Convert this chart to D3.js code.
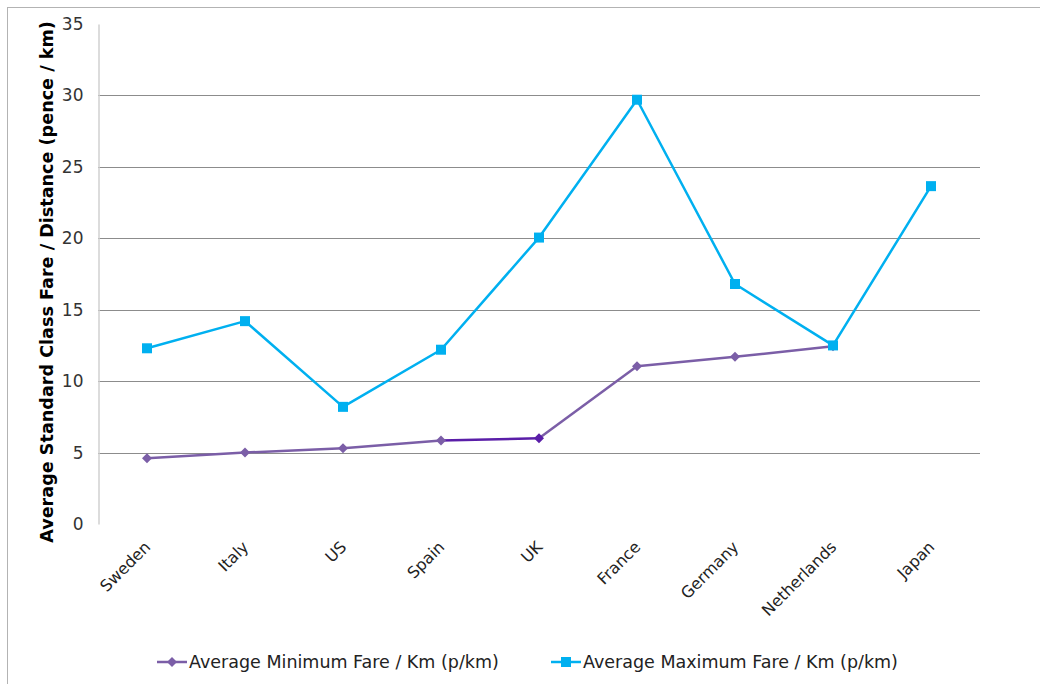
<!DOCTYPE html>
<html>
<head>
<meta charset="utf-8">
<script src="https://cdn.jsdelivr.net/npm/d3@7/dist/d3.min.js"></script>
<style>
  html, body { margin: 0; padding: 0; background: #fff; }
  svg { display: block; font-family: "DejaVu Sans", Verdana, sans-serif; }
</style>
</head>
<body>
<svg id="chart" width="1040" height="684"></svg>
<script>
// Standard class fares per km by country
const countries = ["Sweden", "Italy", "US", "Spain", "UK", "France", "Germany", "Netherlands", "Japan"];
const minFare = [4.6, 5.0, 5.3, 5.85, 6.0, 11.05, 11.7, 12.45, null];
const maxFare = [12.3, 14.2, 8.2, 12.2, 20.05, 29.7, 16.8, 12.5, 23.65];
const yTicks = [0, 5, 10, 15, 20, 25, 30, 35];
const seriesNames = ["Average Minimum Fare / Km (p/km)", "Average Maximum Fare / Km (p/km)"];
const yTitle = "Average Standard Class Fare / Distance (pence / km)";

const MIN_COLOR = "#7b5ea7";
const MIN_ACCENT = "#5a1ea8";   // the UK point and the segment leading to it
const MAX_COLOR = "#00b0f0";
const accentIndex = countries.indexOf("UK");

const svg = d3.select("#chart");

// outer frame
svg.append("rect")
  .attr("x", 7.5).attr("y", 7.5).attr("width", 1100).attr("height", 700)
  .attr("fill", "none").attr("stroke", "#b3b3b3").attr("stroke-width", 1);

const plot = { left: 98, right: 980, top: 24, bottom: 524 };

const x = d3.scalePoint().domain(countries)
  .range([plot.left, plot.right]).padding(0.5);
const y = d3.scaleLinear().domain([0, 35]).range([plot.bottom, plot.top]);

// horizontal gridlines (none at the top tick or the baseline)
svg.append("g").selectAll("line")
  .data(yTicks.filter(t => t > 0 && t < 35))
  .join("line")
  .attr("x1", plot.left).attr("x2", plot.right)
  .attr("y1", d => Math.round(y(d)) + 0.5).attr("y2", d => Math.round(y(d)) + 0.5)
  .attr("stroke", "#8c8c8c").attr("stroke-width", 1);

// y axis
const yAxis = d3.axisLeft(y).tickValues(yTicks).tickSize(0).tickPadding(15);
const gy = svg.append("g").attr("transform", `translate(${plot.left + 0.5},0)`).call(yAxis);
gy.select(".domain").attr("stroke", "#d0d0d0").attr("stroke-width", 1.5);
gy.selectAll("text").attr("font-size", 17).attr("fill", "#333")
  .attr("font-family", "DejaVu Sans, Verdana, sans-serif");

// x axis labels, rotated
const xAxis = d3.axisBottom(x).tickSize(0).tickPadding(0);
const gx = svg.append("g").attr("transform", `translate(0,${plot.bottom})`).call(xAxis);
gx.select(".domain").remove();
gx.selectAll("text")
  .attr("font-size", 16).attr("fill", "#222")
  .attr("font-family", "DejaVu Sans, Verdana, sans-serif")
  .attr("text-anchor", "end")
  .attr("dy", null).attr("y", 0)
  .attr("transform", "translate(4,24) rotate(-45)");

// y axis title
svg.append("text")
  .attr("transform", `translate(53,${(plot.top + plot.bottom) / 2 + 8}) rotate(-90)`)
  .attr("text-anchor", "middle")
  .attr("font-size", 17.6).attr("font-weight", "bold").attr("fill", "#000")
  .text(yTitle);

const line = d3.line()
  .defined(d => d.v != null)
  .x(d => x(d.c)).y(d => y(d.v));

const minData = countries.map((c, i) => ({ c, v: minFare[i], i }));
const maxData = countries.map((c, i) => ({ c, v: maxFare[i], i }));

// minimum series
const gMin = svg.append("g");
for (let i = 0; i < minData.length - 1; i++) {
  const a = minData[i], b = minData[i + 1];
  if (a.v == null || b.v == null) continue;
  gMin.append("path")
    .attr("d", line([a, b]))
    .attr("fill", "none")
    .attr("stroke", b.i === accentIndex ? MIN_ACCENT : MIN_COLOR)
    .attr("stroke-width", 2.5);
}
const diamond = d3.symbol().type(d3.symbolDiamond2).size(64);
gMin.selectAll("path.m").data(minData.filter(d => d.v != null)).join("path")
  .attr("class", "m")
  .attr("d", diamond)
  .attr("transform", d => `translate(${x(d.c)},${y(d.v)})`)
  .attr("fill", d => d.i === accentIndex ? MIN_ACCENT : MIN_COLOR);

// maximum series
const gMax = svg.append("g");
gMax.append("path")
  .attr("d", line(maxData))
  .attr("fill", "none").attr("stroke", MAX_COLOR).attr("stroke-width", 2.5)
  .attr("stroke-linejoin", "round");
gMax.selectAll("rect").data(maxData).join("rect")
  .attr("x", d => x(d.c) - 5).attr("y", d => y(d.v) - 5)
  .attr("width", 10).attr("height", 10)
  .attr("fill", MAX_COLOR);

// legend
const legend = svg.append("g").attr("transform", "translate(0,662)");
const legendItems = [
  { name: seriesNames[0], color: MIN_COLOR, x0: 157, shape: "diamond" },
  { name: seriesNames[1], color: MAX_COLOR, x0: 551, shape: "square" }
];
legendItems.forEach(it => {
  const g = legend.append("g").attr("transform", `translate(${it.x0},0)`);
  g.append("line").attr("x1", 0).attr("x2", 30).attr("y1", 0).attr("y2", 0)
    .attr("stroke", it.color).attr("stroke-width", 2.5);
  if (it.shape === "diamond") {
    g.append("path").attr("d", diamond).attr("transform", "translate(15,0)").attr("fill", it.color);
  } else {
    g.append("rect").attr("x", 10).attr("y", -5).attr("width", 10).attr("height", 10).attr("fill", it.color);
  }
  g.append("text").attr("x", 32).attr("y", 6)
    .attr("font-size", 17.5).attr("fill", "#222")
    .text(it.name);
});
</script>
</body>
</html>
